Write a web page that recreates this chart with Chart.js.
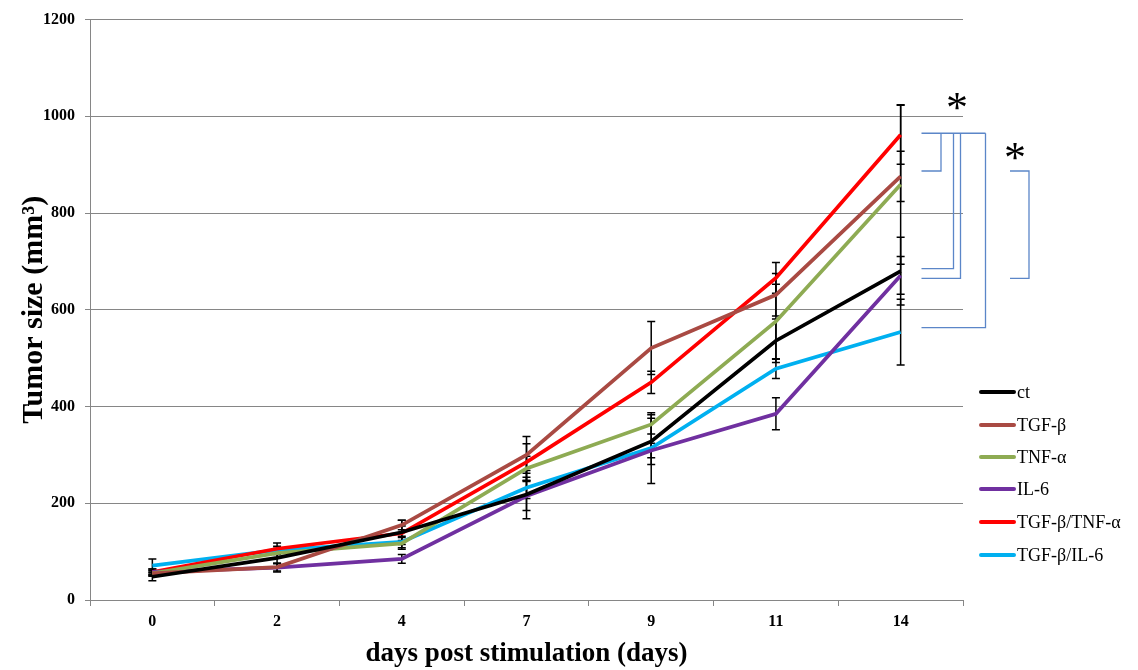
<!DOCTYPE html>
<html><head><meta charset="utf-8">
<script src="https://cdn.jsdelivr.net/npm/chart.js@4.4.1/dist/chart.umd.min.js"></script>
<style>html,body{margin:0;padding:0;background:#fff}#wrap{width:1138px;height:670px;position:relative}</style>
</head><body><div id="wrap"><canvas id="c"></canvas></div>
<script>
// ---- data ----
const days = ['0', '2', '4', '7', '9', '11', '14'];
const seriesNames = ['ct', 'TGF-β', 'TNF-α', 'IL-6', 'TGF-β/TNF-α', 'TGF-β/IL-6'];
const ct       = [48, 87, 140, 218, 328, 536, 680];
const ctErr    = [8, 12, 25, 50, 48, 45, 70];
const tgfb     = [55, 68, 155, 300, 521, 631, 876];
const tgfbErr  = [6, 8, 10, 38, 55, 44, 52];
const tnfa     = [55, 97, 117, 272, 363, 576, 859];
const tnfaErr  = [5, 10, 12, 25, 20, 77, 165];
const il6      = [58, 67, 85, 215, 309, 385, 671];
const il6Err   = [6, 9, 9, 30, 15, 33, 39];
const tgfbTnfa    = [58, 106, 138, 285, 450, 666, 962];
const tgfbTnfaErr = [6, 12, 15, 38, 23, 32, 61];
const tgfbIl6     = [71, 103, 120, 232, 314, 478, 554];
const tgfbIl6Err  = [14, 8, 12, 22, 73, 20, 68];
const yMin = 0, yMax = 1200, yStep = 200;
// significance brackets (values on the y scale)
const sigTop = 965;
const sigBottoms = [887, 685, 665, 563];
const sig2 = [887, 665];

const colors = ['#000000', '#A94A43', '#8EAB53', '#7030A0', '#FF0000', '#00B0F0'];
const values = [ct, tgfb, tnfa, il6, tgfbTnfa, tgfbIl6];
const errors = [ctErr, tgfbErr, tnfaErr, il6Err, tgfbTnfaErr, tgfbIl6Err];

const SERIF = '"Liberation Serif", "Times New Roman", serif';

const errorBarPlugin = {
  id: 'errbars',
  beforeDatasetsDraw(chart) {
    const ctx = chart.ctx, ys = chart.scales.y;
    ctx.save();
    ctx.strokeStyle = '#000';
    ctx.lineWidth = 1.5;
    chart.data.datasets.forEach((ds, i) => {
      const meta = chart.getDatasetMeta(i);
      meta.data.forEach((pt, j) => {
        const v = ds.data[j], e = errors[i][j];
        const yTop = ys.getPixelForValue(v + e), yBot = ys.getPixelForValue(v - e);
        const x = pt.x;
        ctx.beginPath();
        ctx.moveTo(x, yTop); ctx.lineTo(x, yBot);
        ctx.moveTo(x - 4, yTop); ctx.lineTo(x + 4, yTop);
        ctx.moveTo(x - 4, yBot); ctx.lineTo(x + 4, yBot);
        ctx.stroke();
      });
    });
    ctx.restore();
  }
};

const annotPlugin = {
  id: 'annot',
  afterDraw(chart) {
    const ctx = chart.ctx, ys = chart.scales.y;
    ctx.save();
    // legend
    ctx.font = '18px ' + SERIF;
    ctx.textBaseline = 'middle';
    ctx.textAlign = 'left';
    const legY = [392, 425, 457, 489, 522, 555];
    chart.data.datasets.forEach((ds, i) => {
      ctx.strokeStyle = ds.borderColor;
      ctx.lineWidth = 4;
      ctx.lineCap = 'round';
      ctx.beginPath();
      ctx.moveTo(981, legY[i]); ctx.lineTo(1014, legY[i]);
      ctx.stroke();
      ctx.fillStyle = '#000';
      ctx.fillText(ds.label, 1017, legY[i] + 1);
    });
    // brackets
    ctx.lineCap = 'butt';
    ctx.strokeStyle = '#5B86C8';
    ctx.lineWidth = 1.3;
    const yT = ys.getPixelForValue(sigTop);
    const xl = 921.5, vx = [941, 953.5, 960.5, 985.5];
    ctx.beginPath();
    ctx.moveTo(xl, yT); ctx.lineTo(vx[3], yT);
    sigBottoms.forEach((b, k) => {
      const yb = ys.getPixelForValue(b);
      ctx.moveTo(vx[k], yT); ctx.lineTo(vx[k], yb); ctx.lineTo(xl, yb);
    });
    const y1 = ys.getPixelForValue(sig2[0]), y2 = ys.getPixelForValue(sig2[1]);
    ctx.moveTo(1010, y1); ctx.lineTo(1029, y1); ctx.lineTo(1029, y2); ctx.lineTo(1010, y2);
    ctx.stroke();
    // asterisks
    ctx.fillStyle = '#000';
    ctx.font = '44px ' + SERIF;
    ctx.textAlign = 'center';
    ctx.textBaseline = 'middle';
    ctx.fillText('*', 957, 110);
    ctx.fillText('*', 1015, 160);
    ctx.restore();
  }
};

new Chart(document.getElementById('c'), {
  type: 'line',
  data: {
    labels: days,
    datasets: seriesNames.map((n, i) => ({
      label: n,
      data: values[i],
      borderColor: colors[i],
      backgroundColor: colors[i],
      borderWidth: 3.7,
      pointRadius: 0,
      tension: 0,
      fill: false
    }))
  },
  options: {
    responsive: true,
    maintainAspectRatio: false,
    animation: false,
    devicePixelRatio: 1,
    layout: { padding: { top: 18, right: 175, left: 0, bottom: 0 } },
    plugins: { legend: { display: false }, tooltip: { enabled: false } },
    scales: {
      x: {
        type: 'category',
        offset: true,
        grid: { offset: true, drawOnChartArea: false, drawTicks: true, tickLength: 6, color: '#868686' },
        border: { color: '#868686', width: 1 },
        ticks: { color: '#000', font: { family: SERIF, size: 16, weight: 'bold' }, padding: 6 },
        title: { display: true, text: 'days post stimulation (days)', color: '#000',
                 font: { family: SERIF, size: 27, weight: 'bold' }, padding: { top: 0, bottom: 0 } },
        afterFit(s) { s.height = 70; }
      },
      y: {
        min: yMin, max: yMax,
        ticks: { stepSize: yStep, color: '#000', font: { family: SERIF, size: 16, weight: 'bold' }, padding: 10,
                 callback: (v) => String(v) },
        grid: { color: '#868686', tickLength: 5, lineWidth: 1 },
        border: { color: '#868686', width: 1 },
        title: { display: true, text: 'Tumor size (mm³)', color: '#000',
                 font: { family: SERIF, size: 30, weight: 'bold' }, padding: { top: 16, bottom: 0 } },
        afterFit(s) { s.width = 90; }
      }
    }
  },
  plugins: [errorBarPlugin, annotPlugin]
});
</script>
</body></html>
